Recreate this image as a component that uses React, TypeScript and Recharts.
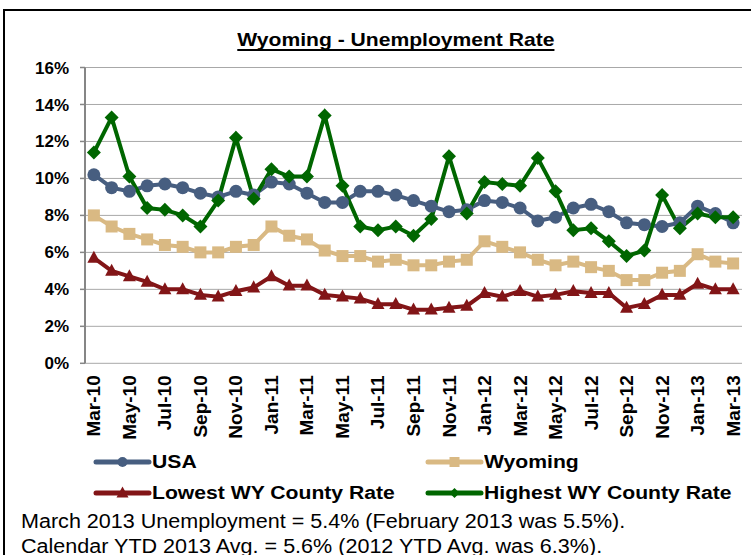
import React from 'react';
import { LineChart, Line, XAxis, YAxis, CartesianGrid } from 'recharts';

const months = [
  'Mar-10','Apr-10','May-10','Jun-10','Jul-10','Aug-10','Sep-10','Oct-10','Nov-10','Dec-10',
  'Jan-11','Feb-11','Mar-11','Apr-11','May-11','Jun-11','Jul-11','Aug-11','Sep-11','Oct-11','Nov-11','Dec-11',
  'Jan-12','Feb-12','Mar-12','Apr-12','May-12','Jun-12','Jul-12','Aug-12','Sep-12','Oct-12','Nov-12','Dec-12',
  'Jan-13','Feb-13','Mar-13',
];

const usa = [10.2, 9.5, 9.3, 9.6, 9.7, 9.5, 9.2, 9.0, 9.3, 9.1,
  9.8, 9.7, 9.2, 8.7, 8.7, 9.3, 9.3, 9.1, 8.8, 8.5, 8.2, 8.3,
  8.8, 8.7, 8.4, 7.7, 7.9, 8.4, 8.6, 8.2, 7.6, 7.5, 7.4, 7.6,
  8.5, 8.1, 7.6];

const wyoming = [8.0, 7.4, 7.0, 6.7, 6.4, 6.3, 6.0, 6.0, 6.3, 6.4,
  7.4, 6.9, 6.7, 6.1, 5.8, 5.8, 5.5, 5.6, 5.3, 5.3, 5.5, 5.6,
  6.6, 6.3, 6.0, 5.6, 5.3, 5.5, 5.2, 5.0, 4.5, 4.5, 4.9, 5.0,
  5.9, 5.5, 5.4];

const lowest = [5.7, 5.0, 4.7, 4.4, 4.0, 4.0, 3.7, 3.6, 3.9, 4.1,
  4.7, 4.2, 4.2, 3.7, 3.6, 3.5, 3.2, 3.2, 2.9, 2.9, 3.0, 3.1,
  3.8, 3.6, 3.9, 3.6, 3.7, 3.9, 3.8, 3.8, 3.0, 3.2, 3.7, 3.7,
  4.3, 4.0, 4.0];

const highest = [11.4, 13.3, 10.1, 8.4, 8.3, 8.0, 7.4, 8.8, 12.2, 8.9,
  10.5, 10.1, 10.1, 13.4, 9.6, 7.4, 7.2, 7.4, 6.9, 7.8, 11.2, 8.1,
  9.8, 9.7, 9.6, 11.1, 9.3, 7.2, 7.3, 6.6, 5.8, 6.1, 9.1, 7.3,
  8.1, 7.9, 7.9];

const yTicks = [0, 2, 4, 6, 8, 10, 12, 14, 16];
const labelTicks = months.map((_, i) => i).filter((i) => i % 2 === 0);
const boundaryTicks = months.map((_, i) => i - 0.5).filter((_, i) => i % 2 === 0);

const data = months.map((m, i) => ({
  i,
  month: m,
  usa: usa[i],
  wyoming: wyoming[i],
  lowest: lowest[i],
  highest: highest[i],
}));

const C_USA = '#475E80';
const C_WY = '#D9B983';
const C_LOW = '#821517';
const C_HIGH = '#006600';
const AXIS = '#868686';
const GRID = '#A8A8A8';
const FONT = '"Liberation Sans", Arial, sans-serif';

type Shape = 'circle' | 'square' | 'triangle' | 'diamond';

function marker(shape: Shape, color: string, cx: number, cy: number, s: number, key?: any) {
  if (shape === 'circle') return <circle key={key} cx={cx} cy={cy} r={s} fill={color} />;
  if (shape === 'square')
    return <rect key={key} x={cx - s} y={cy - s} width={s * 2} height={s * 2} fill={color} />;
  if (shape === 'triangle')
    return (
      <polygon
        key={key}
        points={`${cx},${cy - s * 1.1} ${cx - s},${cy + s * 0.75} ${cx + s},${cy + s * 0.75}`}
        fill={color}
      />
    );
  return (
    <polygon
      key={key}
      points={`${cx},${cy - s} ${cx + s},${cy} ${cx},${cy + s} ${cx - s},${cy}`}
      fill={color}
    />
  );
}

const makeDot = (shape: Shape, color: string, s: number) => (props: any) => {
  const { cx, cy, index } = props;
  if (cx == null || cy == null) return <g key={index} />;
  return marker(shape, color, cx, cy, s, index);
};

const XTick = (props: any) => {
  const { x, y, payload } = props;
  return (
    <text
      x={0}
      y={0}
      transform={`translate(${x},${y + 12}) rotate(-90)`}
      textAnchor="end"
      dominantBaseline="central"
      fontFamily={FONT}
      fontWeight="bold"
      fontSize={19}
      fill="#000"
    >
      {months[payload.value]}
    </text>
  );
};

const legendItems = [
  { name: 'USA', color: C_USA, shape: 'circle' as Shape, left: 93, top: 462, s: 5 },
  { name: 'Wyoming', color: C_WY, shape: 'square' as Shape, left: 425, top: 462, s: 5 },
  { name: 'Lowest WY County Rate', color: C_LOW, shape: 'triangle' as Shape, left: 93, top: 492.5, s: 6 },
  { name: 'Highest WY County Rate', color: C_HIGH, shape: 'diamond' as Shape, left: 425, top: 492.5, s: 5 },
];

export default function App() {
  return (
    <div
      style={{
        position: 'absolute',
        left: 0,
        top: 0,
        width: 751,
        height: 555,
        overflow: 'hidden',
        background: '#fff',
        fontFamily: FONT,
      }}
    >
      <div
        style={{
          position: 'absolute',
          left: 3,
          top: 9,
          width: 900,
          height: 700,
          borderLeft: '2.5px solid #000',
          borderTop: '2.5px solid #000',
        }}
      />
      <div
        style={{
          position: 'absolute',
          left: 196,
          top: 29.8,
          width: 400,
          textAlign: 'center',
          fontSize: 19,
          lineHeight: 1,
          fontWeight: 'bold',
          color: '#000',
        }}
      >
        <span
          style={{
            display: 'inline-block',
            transform: 'scaleX(1.11)',
            transformOrigin: 'center',
            textDecoration: 'underline',
            textDecorationThickness: '2px',
            textUnderlineOffset: '3px',
            textDecorationSkipInk: 'none',
          } as any}
        >
          Wyoming - Unemployment Rate
        </span>
      </div>

      <div style={{ position: 'absolute', left: 0, top: 0 }}>
        <LineChart
          width={751}
          height={555}
          data={data}
          margin={{ top: 67.5, right: 9, left: 25, bottom: 111.7 }}
        >
          <CartesianGrid xAxisId="lbl" horizontal={true} vertical={false} stroke={GRID} strokeWidth={1} />
          <XAxis
            xAxisId="tk"
            type="number"
            dataKey="i"
            domain={[-0.5, 36.5]}
            allowDataOverflow
            ticks={boundaryTicks}
            tick={false}
            tickLine={{ stroke: AXIS, strokeWidth: 1.5 }}
            tickSize={5}
            axisLine={{ stroke: AXIS, strokeWidth: 2 }}
            height={0}
          />
          <XAxis
            xAxisId="lbl"
            type="number"
            dataKey="i"
            domain={[-0.5, 36.5]}
            allowDataOverflow
            ticks={labelTicks}
            interval={0}
            tick={<XTick />}
            tickLine={false}
            axisLine={false}
            tickSize={0}
            tickMargin={0}
            height={80}
          />
          <YAxis
            type="number"
            domain={[0, 16]}
            ticks={yTicks}
            interval={0}
            width={60}
            tickFormatter={(v: number) => `${v}%`}
            tick={{ fontSize: 17, fontWeight: 'bold', fill: '#000', fontFamily: FONT }}
            tickLine={{ stroke: AXIS, strokeWidth: 1.5 }}
            tickSize={5}
            tickMargin={11}
            axisLine={{ stroke: AXIS, strokeWidth: 2 }}
          />
          <Line
            xAxisId="lbl"
            type="linear"
            dataKey="usa"
            stroke={C_USA}
            strokeWidth={4}
            dot={makeDot('circle', C_USA, 6.5)}
            activeDot={false}
            isAnimationActive={false}
          />
          <Line
            xAxisId="lbl"
            type="linear"
            dataKey="wyoming"
            stroke={C_WY}
            strokeWidth={4}
            dot={makeDot('square', C_WY, 6)}
            activeDot={false}
            isAnimationActive={false}
          />
          <Line
            xAxisId="lbl"
            type="linear"
            dataKey="lowest"
            stroke={C_LOW}
            strokeWidth={4}
            dot={makeDot('triangle', C_LOW, 6.5)}
            activeDot={false}
            isAnimationActive={false}
          />
          <Line
            xAxisId="lbl"
            type="linear"
            dataKey="highest"
            stroke={C_HIGH}
            strokeWidth={4}
            dot={makeDot('diamond', C_HIGH, 7)}
            activeDot={false}
            isAnimationActive={false}
          />
        </LineChart>
      </div>

      {legendItems.map((it) => (
        <div
          key={it.name}
          style={{
            position: 'absolute',
            left: it.left,
            top: it.top - 9,
            height: 18,
            display: 'flex',
            alignItems: 'center',
            whiteSpace: 'nowrap',
          }}
        >
          <svg width={59} height={18} style={{ display: 'block' }}>
            <line x1={3} y1={9} x2={56} y2={9} stroke={it.color} strokeWidth={5} strokeLinecap="round" />
            {marker(it.shape, it.color, 29.5, 9, it.s)}
          </svg>
          <span
            style={{
              display: 'inline-block',
              fontSize: 18,
              lineHeight: 1,
              fontWeight: 'bold',
              color: '#000',
              transform: 'scaleX(1.175)',
              transformOrigin: 'left center',
            }}
          >
            {it.name}
          </span>
        </div>
      ))}

      <div
        style={{
          position: 'absolute',
          left: 21,
          top: 508.5,
          fontSize: 19.5,
          lineHeight: '25px',
          color: '#000',
          whiteSpace: 'nowrap',
          transform: 'scaleX(1.105)',
          transformOrigin: 'left top',
        }}
      >
        <div>March 2013 Unemployment = 5.4% (February 2013 was 5.5%).</div>
        <div>Calendar YTD 2013 Avg. = 5.6% (2012 YTD Avg. was 6.3%).</div>
      </div>
    </div>
  );
}
